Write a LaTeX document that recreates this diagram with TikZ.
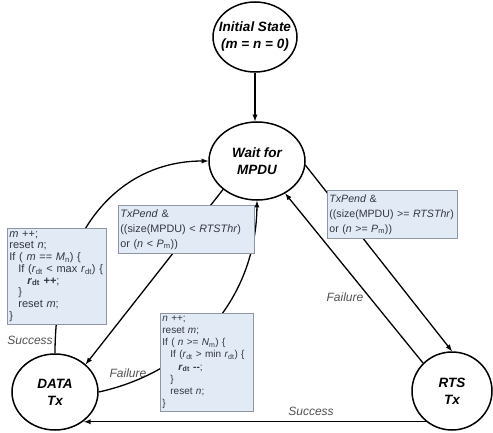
\documentclass[tikz,border=0pt]{standalone}
\usepackage{fontspec}
\setmainfont{Liberation Sans}
\usetikzlibrary{shapes.geometric}
\definecolor{boxfill}{RGB}{226,234,246}
\definecolor{boxline}{RGB}{140,150,165}
\definecolor{boxtext}{RGB}{50,55,65}
\definecolor{edgetext}{RGB}{80,80,80}

\begin{document}
\begin{tikzpicture}[x=1pt, y=-1pt, >=latex,
		state/.style={ellipse, draw, line width=1.5pt, inner sep=-8pt, align=center,
			font=\fontsize{13.5}{17}\selectfont\bfseries\itshape},
		codebox/.style={rectangle, draw=boxline, fill=boxfill, line width=0.8pt,
			inner xsep=2pt, inner ysep=2.5pt, align=left, anchor=north west, text=boxtext},
		edge/.style={->, line width=1.3pt},
		edgelabel/.style={font=\fontsize{12}{14}\selectfont\itshape, text=edgetext}]
	\useasboundingbox (0,0) rectangle (493,433);

	% states
	\node[state, minimum width=84pt, minimum height=70pt] (init) at (255,37) {Initial State\\(m = n = 0)};
	\node[state, minimum width=96pt, minimum height=78pt] (wait) at (257,161) {Wait for\\MPDU};
	\node[state, minimum width=86pt, minimum height=76pt] (data) at (55,392) {DATA\\Tx};
	\node[state, minimum width=80pt, minimum height=78pt] (rts) at (452,391) {RTS\\Tx};

	% transitions
	\draw[edge] (init.south) -- (init.south |- wait.north);
	\draw[edge] (data.north) .. controls (55,230) and (120,161) .. (wait.west);
	\draw[edge] (wait.220) -- (data.42);
	\draw[edge] (data.east) .. controls (190,372) and (256,300) .. (wait.south);
	\draw[edge] (wait.-5) -- (rts.north);
	\draw[edge] (rts.136) -- (wait.-49);
	\draw[edge] (rts.-130) -- (rts.-130 -| data.-45);

	% conditions and updates
	\node[codebox, text width=95pt, minimum height=95pt, font=\fontsize{11}{11.7}\selectfont] (succupd) at (7,228) {%
		\textit{m} ++;\\
		reset \textit{n};\\
		If ( \textit{m} == \textit{M}\textsubscript{n}) \{\\
		\hspace*{9pt}If (\textit{r}\textsubscript{dt} < max \textit{r}\textsubscript{dt}) \{\\
		\hspace*{18pt}\textbf{\textit{r}\textsubscript{dt} ++};\\
		\hspace*{9pt}\}\\
		\hspace*{9pt}reset \textit{m};\\
		\}};
	\node[codebox, text width=132pt, minimum height=48pt, font=\fontsize{10.8}{15}\selectfont] (datacond) at (118,205) {%
		\textit{TxPend} \&\\
		((size(MPDU) < \textit{RTSThr})\\
		or (\textit{n} < \textit{P}\textsubscript{m}))};
	\node[codebox, text width=126pt, minimum height=48pt, font=\fontsize{10.6}{15}\selectfont] (rtscond) at (327,190) {%
		\textit{TxPend} \&\\
		((size(MPDU) >= \textit{RTSThr})\\
		or (\textit{n} >= \textit{P}\textsubscript{m}))};
	\node[codebox, text width=89pt, minimum height=94pt, font=\fontsize{10}{12.1}\selectfont] (failupd) at (160,313) {%
		\textit{n} ++;\\
		reset \textit{m};\\
		If ( \textit{n} >= \textit{N}\textsubscript{m}) \{\\
		\hspace*{8pt}If (\textit{r}\textsubscript{dt} > min \textit{r}\textsubscript{dt}) \{\\
		\hspace*{16pt}\textbf{\textit{r}\textsubscript{dt} -{}-};\\
		\hspace*{8pt}\}\\
		\hspace*{8pt}reset \textit{n};\\
		\}};

	% edge labels
	\node[edgelabel] (succleft) at (30,340) {Success};
	\node[edgelabel] (failleft) at (128,373) {Failure};
	\node[edgelabel] (failright) at (345,297) {Failure};
	\node[edgelabel] (succbottom) at (311,411) {Success};
\end{tikzpicture}
\end{document}
